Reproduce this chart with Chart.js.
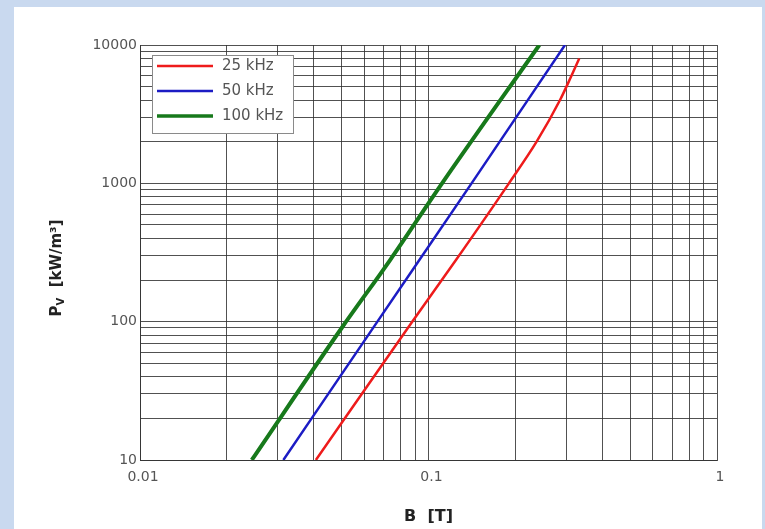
<!DOCTYPE html>
<html>
<head>
<meta charset="utf-8">
<script src="https://cdn.jsdelivr.net/npm/chart.js@4"></script>
<style>
  html, body { margin: 0; padding: 0; background: #c9d9ef; }
  #panel { position: absolute; left: 14px; top: 7px; width: 748px; height: 522px; background: #fff; }
</style>
</head>
<body>
<div id="panel"><canvas id="myChart"></canvas></div>
<script>
// core loss Pv [kW/m3] against flux density B [T]
const b25 = [0.0407, 0.0878, 0.1245, 0.190, 0.237, 0.2857, 0.313, 0.333];
const p25 = [10, 100, 279, 1000, 2000, 4000, 6000, 8000];
const b50 = [0.0314, 0.0665, 0.141, 0.2972];
const p50 = [10, 100, 1000, 10000];
const b100 = [0.0244, 0.050, 0.0736, 0.1114, 0.2422];
const p100 = [10, 90, 279, 1000, 10000];
const seriesLabels = ['25 kHz', '50 kHz', '100 kHz'];
const xTickLabels = ['0.01', '0.1', '1'];
const yTickLabels = ['10', '100', '1000', '10000'];

const gridColor = 'rgba(50, 50, 50, 0.85)';
const tickFont = { family: 'DejaVu Sans', size: 14 };

// one grid line for every 1..9 step of each decade
function logTicks(labels) {
  const majors = labels.map(Number);
  const out = [];
  for (let i = 0; i < majors.length - 1; i++) {
    for (let m = 1; m < 10; m++) out.push({ value: +(majors[i] * m).toPrecision(6) });
  }
  out.push({ value: majors[majors.length - 1] });
  return out;
}

function majorLabel(labels) {
  return (v) => {
    const hit = labels.find(l => Math.abs(v / Number(l) - 1) < 1e-6);
    return hit || '';
  };
}

function points(bs, ps) {
  return bs.map((b, i) => ({ x: b, y: ps[i] }));
}

// legend box inside the plot and the axis titles
const decorations = {
  id: 'decorations',
  afterDraw(chart) {
    const { ctx, chartArea: a } = chart;
    ctx.save();

    const lx = a.left + 12, ly = a.top + 10, lw = 141, lh = 78;
    ctx.fillStyle = '#fff';
    ctx.fillRect(lx, ly, lw, lh);
    ctx.strokeStyle = '#8a8a8a';
    ctx.lineWidth = 1;
    ctx.strokeRect(lx + 0.5, ly + 0.5, lw, lh);
    chart.data.datasets.forEach((ds, i) => {
      const y = ly + 11 + i * 25;
      ctx.strokeStyle = ds.borderColor;
      ctx.lineWidth = ds.legendWidth;
      ctx.beginPath();
      ctx.moveTo(lx + 5, y);
      ctx.lineTo(lx + 61, y);
      ctx.stroke();
      ctx.fillStyle = '#555';
      ctx.font = '15px "DejaVu Sans"';
      ctx.textAlign = 'left';
      ctx.textBaseline = 'middle';
      ctx.fillText(ds.label, lx + 70, y);
    });

    ctx.fillStyle = '#222';
    ctx.font = 'bold 16px "DejaVu Sans"';
    ctx.textAlign = 'center';
    ctx.textBaseline = 'middle';
    ctx.fillText('B  [T]', (a.left + a.right) / 2, a.bottom + 57);

    // Pv with a small subscript V, turned on its side
    ctx.translate(41, a.top + 223);
    ctx.rotate(-Math.PI / 2);
    ctx.textAlign = 'left';
    ctx.textBaseline = 'alphabetic';
    const bold = 'bold 15px "DejaVu Sans"', small = 'bold 10px "DejaVu Sans"';
    ctx.font = bold;
    const wP = ctx.measureText('P').width, wRest = ctx.measureText('  [kW/m³]').width;
    ctx.font = small;
    const wV = ctx.measureText('V').width;
    let x = -(wP + wV + wRest) / 2;
    ctx.font = bold;
    ctx.fillText('P', x, 6);
    x += wP;
    ctx.font = small;
    ctx.fillText('V', x, 9);
    x += wV;
    ctx.font = bold;
    ctx.fillText('  [kW/m³]', x, 6);
    ctx.restore();
  }
};

const ctx = document.getElementById('myChart').getContext('2d');
const myChart = new Chart(ctx, {
  type: 'line',
  data: {
    datasets: [{
      label: seriesLabels[0],
      data: points(b25, p25),
      borderColor: '#ee1b1b',
      borderWidth: 2.5,
      legendWidth: 2.5
    }, {
      label: seriesLabels[1],
      data: points(b50, p50),
      borderColor: '#1c1cc4',
      borderWidth: 2.5,
      legendWidth: 2.5
    }, {
      label: seriesLabels[2],
      data: points(b100, p100),
      borderColor: '#17791b',
      borderWidth: 4,
      legendWidth: 3.5
    }]
  },
  options: {
    responsive: true,
    maintainAspectRatio: false,
    animation: false,
    layout: { padding: { top: 38, right: 45, left: 0, bottom: 0 } },
    elements: {
      point: { radius: 0 },
      line: { cubicInterpolationMode: 'monotone', fill: false }
    },
    scales: {
      x: {
        type: 'logarithmic',
        min: Number(xTickLabels[0]),
        max: Number(xTickLabels[xTickLabels.length - 1]),
        afterBuildTicks: s => { s.ticks = logTicks(xTickLabels); },
        afterFit: s => { s.height = 69; },
        grid: { color: gridColor, lineWidth: 1, drawTicks: false },
        border: { color: gridColor },
        ticks: {
          autoSkip: false, maxRotation: 0, labelOffset: 3, padding: 9,
          color: '#555', font: tickFont,
          callback: majorLabel(xTickLabels)
        }
      },
      y: {
        type: 'logarithmic',
        min: Number(yTickLabels[0]),
        max: Number(yTickLabels[yTickLabels.length - 1]),
        afterBuildTicks: s => { s.ticks = logTicks(yTickLabels); },
        afterFit: s => { s.width = 126; },
        grid: { color: gridColor, lineWidth: 1, drawTicks: false },
        border: { color: gridColor },
        ticks: {
          autoSkip: false, padding: 3,
          color: '#555', font: tickFont,
          callback: majorLabel(yTickLabels)
        }
      }
    },
    plugins: {
      legend: { display: false },
      tooltip: { enabled: false }
    }
  },
  plugins: [decorations]
});
</script>
</body>
</html>
